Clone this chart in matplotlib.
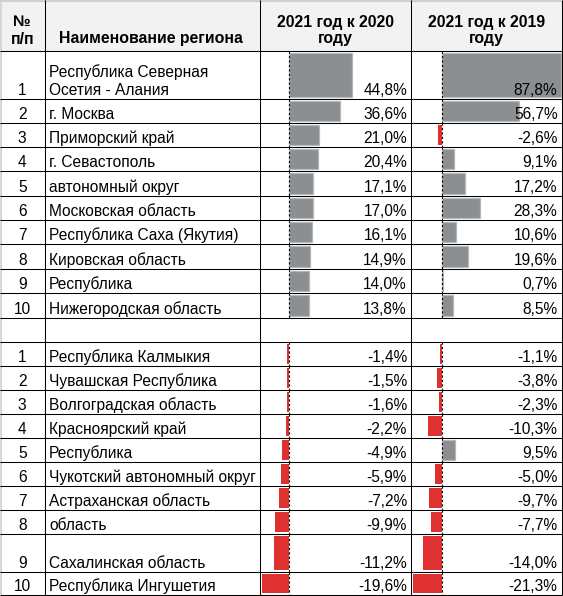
import matplotlib
matplotlib.use("Agg")
import matplotlib.pyplot as plt

plt.rcParams['font.family'] = ['Liberation Sans', 'DejaVu Sans']

# ---- data ----
top_regions = ["Республика Северная\nОсетия - Алания", "г. Москва", "Приморский край",
               "г. Севастополь", "автономный округ", "Московская область",
               "Республика Саха (Якутия)", "Кировская область", "Республика",
               "Нижегородская область"]
top_2020 = [44.8, 36.6, 21.0, 20.4, 17.1, 17.0, 16.1, 14.9, 14.0, 13.8]
top_2019 = [87.8, 56.7, -2.6, 9.1, 17.2, 28.3, 10.6, 19.6, 0.7, 8.5]

bottom_regions = ["Республика Калмыкия", "Чувашская Республика", "Волгоградская область",
                  "Красноярский край", "Республика", "Чукотский автономный округ",
                  "Астраханская область", "область", "Сахалинская область",
                  "Республика Ингушетия"]
bottom_2020 = [-1.4, -1.5, -1.6, -2.2, -4.9, -5.9, -7.2, -9.9, -11.2, -19.6]
bottom_2019 = [-1.1, -3.8, -2.3, -10.3, 9.5, -5.0, -9.7, -7.7, -14.0, -21.3]

headers = ["№\nп/п", "Наименование региона", "2021 год к 2020\nгоду", "2021 год к 2019\nгоду"]

# ---- layout (pixels) ----
W, H = 563, 596
col_x = [0, 44.5, 260, 411, 562]
header_h = 51
row_h_top = [48, 24, 24, 24, 25, 24, 24, 25, 24, 25]
blank_h = 24
row_h_bot = [24, 24, 24, 24, 24, 24, 24, 24, 38, 23]
FS = 11.2
FS_HEAD = 11.4
line_gap = 17.7
GRAY, GRAY_EDGE, RED = '#8c8f92', '#b4b6b8', '#e03131'

# row table: (top, height, idx, region, v2020, v2019) ; None for blank row
rows = []
y = header_h
for i, h in enumerate(row_h_top):
    rows.append((y, h, i + 1, top_regions[i], top_2020[i], top_2019[i]))
    y += h
rows.append((y, blank_h, None, None, None, None))
y += blank_h
for i, h in enumerate(row_h_bot):
    rows.append((y, h, i + 1, bottom_regions[i], bottom_2020[i], bottom_2019[i]))
    y += h
table_bottom = y

fig = plt.figure(figsize=(W / 100, H / 100), dpi=100)
fig.patch.set_facecolor('white')


def fmt(v):
    return f"{v:.1f}%".replace('.', ',')


# bar axes: x in percent, y in pixels
bar_specs = [(2, 289.3, 1.395, 4), (3, 441.7, 1.36, 5)]
for col, zero_px, px_per_pct, vi in bar_specs:
    x0, x1 = col_x[col], col_x[col + 1]
    bax = fig.add_axes([x0 / W, 0, (x1 - x0) / W, 1])
    bax.set_xlim(-(zero_px - x0) / px_per_pct, (x1 - zero_px) / px_per_pct)
    bax.set_ylim(H, 0)
    bax.axis('off')
    bax.set_zorder(1)
    for r in rows:
        top, h = r[0], r[1]
        v = r[vi]
        if v is None:
            continue
        bh = h - 3.5
        yc = top + 1.5 + bh / 2
        if v >= 0:
            bax.barh(yc, v, height=bh, color=GRAY, edgecolor=GRAY_EDGE, linewidth=0.9)
        else:
            bax.barh(yc, v, height=bh, color=RED, edgecolor='none')
        bax.vlines(0, top, top + h, colors='black', linestyles=(0, (2, 2)), linewidth=0.8, zorder=5)

# table axes on top: grid lines and text in pixel coordinates
ax = fig.add_axes([0, 0, 1, 1])
ax.set_xlim(0, W)
ax.set_ylim(H, 0)
ax.axis('off')
ax.set_zorder(3)
ax.patch.set_visible(False)

ax.fill_between([0, col_x[-1]], 0, header_h, color='#f2f2f2', lw=0)
ax.hlines(0.8, 0, W, colors='#d0d0d0', linewidth=1.6)
ax.vlines(0.6, 0, table_bottom, colors='#d0d0d0', linewidth=1.2)

lw = 0.75
ax.hlines(header_h, 0, col_x[-1], colors='black', linewidth=lw)
for r in rows:
    ax.hlines(r[0] + r[1], 0, col_x[-1], colors='black', linewidth=lw)
ax.vlines(col_x[1:], 0, table_bottom, colors='black', linewidth=lw)

# headers
centers = [(col_x[i] + col_x[i + 1]) / 2 for i in range(4)]
for i, txt in enumerate(headers):
    lines = txt.split('\n')
    base = 43.5
    for k, ln in enumerate(reversed(lines)):
        ax.text(centers[i] - (1 if i == 1 else 0), base - k * 17, ln, ha='center', va='baseline',
                fontsize=FS_HEAD, fontweight='bold', color='black')

# body text
for r in rows:
    top, h, idx, name, v1, v2 = r
    if idx is None:
        continue
    base = top + h - 4.3
    ax.text(centers[0], base, str(idx), ha='center', va='baseline', fontsize=FS)
    for k, ln in enumerate(reversed(name.split('\n'))):
        ax.text(49, base - k * line_gap, ln, ha='left', va='baseline', fontsize=FS)
    ax.text(col_x[3] - 4, base, fmt(v1), ha='right', va='baseline', fontsize=FS)
    ax.text(col_x[4] - 4.5, base, fmt(v2), ha='right', va='baseline', fontsize=FS)

fig.savefig('out.png', dpi=100, facecolor='white')
